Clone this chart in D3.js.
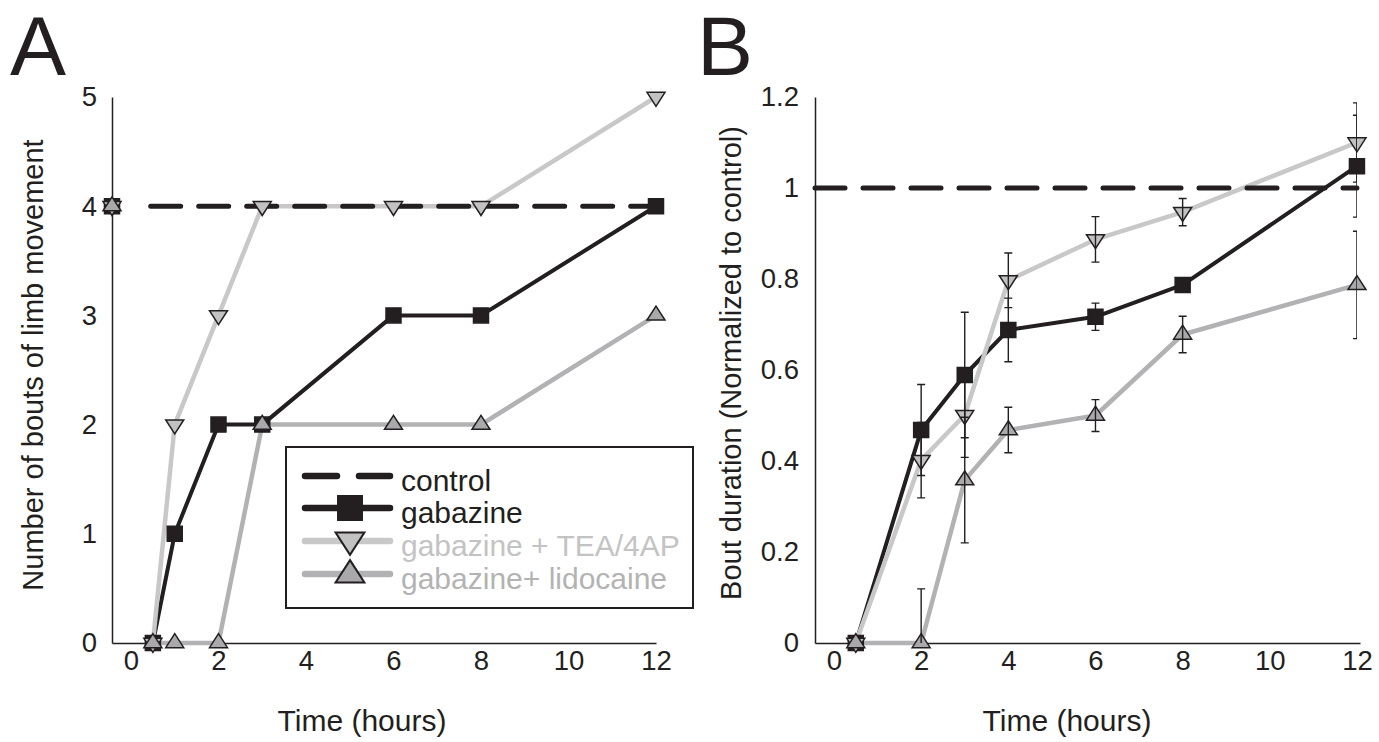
<!DOCTYPE html>
<html>
<head>
<meta charset="utf-8">
<script src="https://cdn.jsdelivr.net/npm/d3@7"></script>
<style>
  body { margin: 0; background: #fff; }
  text { font-family: "Liberation Sans", Arial, sans-serif; fill: #231f20; }
</style>
</head>
<body>
<div class="chart"></div>
<script>
// ---- data ----
let xTicks = [0, 2, 4, 6, 8, 10, 12]

// A: number of bouts of limb movement
let timesA = [0.5, 1, 2, 3, 6, 8, 12]
let gabazineA = [0, 1, 2, 2, 3, 3, 4]
let teaA = [0, 2, 3, 4, 4, 4, 5]
let lidoA = [0, 0, 0, 2, 2, 2, 3]
let controlA = 4
let yTicksA = [0, 1, 2, 3, 4, 5]

// B: bout duration normalized to control (mean, SE)
let timesB = [0.5, 2, 3, 4, 6, 8, 12]
let gabazineB = [0, 0.468, 0.589, 0.688, 0.717, 0.787, 1.048]
let gabazineErrB = [0, 0.1, 0.138, 0.07, 0.03, 0.015, 0.112]
let teaB = [0, 0.402, 0.501, 0.797, 0.887, 0.947, 1.1]
let teaErrB = [0, 0.083, 0.093, 0.06, 0.05, 0.03, 0.087]
let lidoB = [0, 0, 0.358, 0.468, 0.5, 0.678, 0.787]
let lidoErrB = [0, 0.119, 0.138, 0.05, 0.035, 0.04, 0.118]
let controlB = 1
let yTicksB = [0, 0.2, 0.4, 0.6, 0.8, 1, 1.2]

let legendLabels = ["control", "gabazine", "gabazine + TEA/4AP", "gabazine+ lidocaine"]

// ---- styles ----
let ink = "#231f20"
let styles = {
  gabazine: { line: ink, width: 4, marker: "square", fill: ink, text: ink },
  tea: { line: "#c8c8c8", width: 4.5, marker: "down", fill: "#c2c2c2", text: "#c3c3c3" },
  lido: { line: "#b2b2b4", width: 4.5, marker: "up", fill: "#a9a9ab", text: "#b3b3b3" }
}

let w = 1379
let h = 742

let svg = d3.select(".chart")
            .append("svg")
            .attr("width", w)
            .attr("height", h)

// marker shapes, triangles centred on their centroid
function markerPath(type, s) {
  if (type == "square") {
    let a = s / 2
    return `M${-a},${-a}H${a}V${a}H${-a}Z`
  }
  let tw = s * 1.2, th = s * 0.93
  if (type == "down") return `M${-tw/2},${-th/3}L${tw/2},${-th/3}L0,${2*th/3}Z`
  return `M0,${-2*th/3}L${tw/2},${th/3}L${-tw/2},${th/3}Z`
}

function drawPanel(p) {
  let x = d3.scaleLinear().domain(p.xDomain).range(p.xRange)
  let y = d3.scaleLinear().domain(p.yDomain).range(p.yRange)
  let g = svg.append("g")

  // axes, no tick marks
  let xa = g.append("g")
    .attr("transform", `translate(0,${p.yRange[0]})`)
    .call(d3.axisBottom(x).tickValues(xTicks).tickSize(0).tickSizeOuter(0).tickPadding(7))
  let ya = g.append("g")
    .attr("transform", `translate(${p.xRange[0]},0)`)
    .call(d3.axisLeft(y).tickValues(p.yTicks).tickFormat(d => String(d))
      .tickSize(0).tickSizeOuter(0).tickPadding(p.tickPad))
  for (let a of [xa, ya]) {
    a.attr("font-size", 27.5)
    a.select(".domain").attr("stroke", ink).attr("stroke-width", 1.5)
  }

  let line = d3.line().x(d => x(d[0])).y(d => y(d[1]))

  // series lines
  p.series.forEach(s => {
    g.append("path")
      .datum(d3.zip(s.times, s.values))
      .attr("d", line)
      .attr("fill", "none")
      .attr("stroke", s.style.line)
      .attr("stroke-width", s.style.width)
      .attr("stroke-linejoin", "round")
  })

  // control dashed line
  g.append("path")
    .datum([[p.controlFrom, p.control], [12, p.control]])
    .attr("d", line)
    .attr("fill", "none")
    .attr("stroke", ink)
    .attr("stroke-width", 5)
    .attr("stroke-linecap", "round")
    .attr("stroke-dasharray", "30 18")

  // control marker on the axis (all three symbols stacked)
  if (p.controlMarker) {
    p.series.forEach(s => {
      g.append("path")
        .attr("d", markerPath(s.style.marker, 15))
        .attr("transform", `translate(${x(p.xDomain[0])},${y(p.control)})`)
        .attr("fill", s.style.fill)
        .attr("stroke", ink)
        .attr("stroke-width", 1.5)
    })
  }

  // markers
  p.series.forEach(s => {
    g.selectAll(null)
      .data(d3.zip(s.times, s.values))
      .enter()
      .append("path")
      .attr("d", markerPath(s.style.marker, 15))
      .attr("transform", d => `translate(${x(d[0])},${y(d[1])})`)
      .attr("fill", s.style.fill)
      .attr("stroke", ink)
      .attr("stroke-width", 1.5)
  })

  // error bars, clipped to the plot area
  let clipId = "clip" + p.letter
  svg.append("clipPath").attr("id", clipId)
    .append("rect")
    .attr("x", p.xRange[0]).attr("y", p.yRange[1] - 20)
    .attr("width", x(12) - p.xRange[0]).attr("height", p.yRange[0] - p.yRange[1] + 20)
  let eb = g.append("g").attr("clip-path", `url(#${clipId})`)
  p.series.filter(s => s.errs).forEach(s => {
    let rows = d3.zip(s.times, s.values, s.errs).filter(d => d[2] > 0)
    rows.forEach(d => {
      let cx = x(d[0]), lo = y(d[1] - d[2]), hi = y(d[1] + d[2])
      eb.append("path")
        .attr("d", `M${cx},${lo}V${hi}M${cx - 4},${lo}H${cx + 4}M${cx - 4},${hi}H${cx + 4}`)
        .attr("fill", "none")
        .attr("stroke", ink)
        .attr("stroke-width", 1.4)
    })
  })

  // titles
  g.append("text")
    .attr("x", p.xTitleX)
    .attr("y", 731)
    .attr("text-anchor", "middle")
    .attr("font-size", 30)
    .text("Time (hours)")
  g.append("text")
    .attr("transform", `translate(${p.yTitleX},${p.yTitleY}) rotate(-90)`)
    .attr("text-anchor", "middle")
    .attr("font-size", 29)
    .text(p.yTitle)
  g.append("text")
    .attr("x", p.letterX)
    .attr("y", 75)
    .attr("font-size", 84)
    .text(p.letter)
}

drawPanel({
  letter: "A", letterX: 10,
  xDomain: [-0.434, 12], xRange: [112, 656],
  yDomain: [0, 5], yRange: [643, 97],
  yTicks: yTicksA, tickPad: 15,
  control: controlA, controlFrom: 0.45, controlMarker: true,
  xTitleX: 362,
  yTitle: "Number of bouts of limb movement", yTitleX: 43, yTitleY: 365,
  series: [
    { times: timesA, values: gabazineA, style: styles.gabazine },
    { times: timesA, values: teaA, style: styles.tea },
    { times: timesA, values: lidoA, style: styles.lido }
  ]
})

drawPanel({
  letter: "B", letterX: 697,
  xDomain: [-0.436, 12.07], xRange: [815, 1360],
  yDomain: [0, 1.2], yRange: [643, 97],
  yTicks: yTicksB, tickPad: 16,
  control: controlB, controlFrom: -0.436, controlMarker: false,
  xTitleX: 1067,
  yTitle: "Bout duration (Normalized to control)", yTitleX: 741, yTitleY: 363,
  series: [
    { times: timesB, values: gabazineB, errs: gabazineErrB, style: styles.gabazine },
    { times: timesB, values: teaB, errs: teaErrB, style: styles.tea },
    { times: timesB, values: lidoB, errs: lidoErrB, style: styles.lido }
  ]
})

// legend box in panel A
let legend = svg.append("g")
legend.append("rect")
  .attr("x", 286).attr("y", 447)
  .attr("width", 407).attr("height", 161)
  .attr("fill", "#fff")
  .attr("stroke", ink)
  .attr("stroke-width", 2)

let legendStyles = [null, styles.gabazine, styles.tea, styles.lido]
let rowY = [476, 508, 541, 574]
legendLabels.forEach((label, i) => {
  let st = legendStyles[i]
  let yy = rowY[i]
  legend.append("line")
    .attr("x1", 305).attr("x2", 390)
    .attr("y1", yy).attr("y2", yy)
    .attr("stroke", st ? st.line : ink)
    .attr("stroke-width", 6.5)
    .attr("stroke-linecap", "round")
    .attr("stroke-dasharray", st ? null : "32 22")
  if (st) {
    legend.append("path")
      .attr("d", markerPath(st.marker, 24))
      .attr("transform", `translate(350,${yy + (st.marker == "square" ? 0 : (st.marker == "down" ? -1 : 1))})`)
      .attr("fill", st.fill)
      .attr("stroke", ink)
      .attr("stroke-width", 2)
  }
  legend.append("text")
    .attr("x", 401)
    .attr("y", yy + 15)
    .attr("font-size", 30)
    .style("fill", st ? st.text : ink)
    .text(label)
})
</script>
</body>
</html>
